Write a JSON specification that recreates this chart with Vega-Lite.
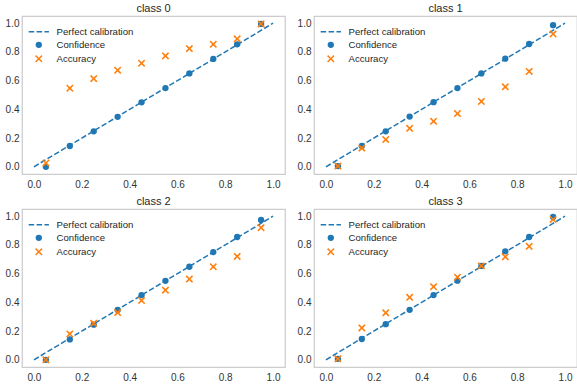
{
  "$schema": "https://vega.github.io/schema/vega-lite/v6.json",
  "padding": {"left": 4, "top": 2, "right": 0, "bottom": 0},
  "datasets": {
    "diag": [{"x": 0, "y": 0, "series": "Perfect calibration"}, {"x": 1, "y": 1, "series": "Perfect calibration"}],
    "pts": [
      {"cls": 0, "series": "Confidence", "x": 0.05, "y": 0.0},
      {"cls": 0, "series": "Confidence", "x": 0.15, "y": 0.145},
      {"cls": 0, "series": "Confidence", "x": 0.25, "y": 0.247},
      {"cls": 0, "series": "Confidence", "x": 0.35, "y": 0.348},
      {"cls": 0, "series": "Confidence", "x": 0.45, "y": 0.449},
      {"cls": 0, "series": "Confidence", "x": 0.55, "y": 0.548},
      {"cls": 0, "series": "Confidence", "x": 0.65, "y": 0.65},
      {"cls": 0, "series": "Confidence", "x": 0.75, "y": 0.751},
      {"cls": 0, "series": "Confidence", "x": 0.85, "y": 0.853},
      {"cls": 0, "series": "Confidence", "x": 0.95, "y": 0.995},
      {"cls": 0, "series": "Accuracy", "x": 0.05, "y": 0.026},
      {"cls": 0, "series": "Accuracy", "x": 0.15, "y": 0.547},
      {"cls": 0, "series": "Accuracy", "x": 0.25, "y": 0.614},
      {"cls": 0, "series": "Accuracy", "x": 0.35, "y": 0.672},
      {"cls": 0, "series": "Accuracy", "x": 0.45, "y": 0.721},
      {"cls": 0, "series": "Accuracy", "x": 0.55, "y": 0.772},
      {"cls": 0, "series": "Accuracy", "x": 0.65, "y": 0.823},
      {"cls": 0, "series": "Accuracy", "x": 0.75, "y": 0.853},
      {"cls": 0, "series": "Accuracy", "x": 0.85, "y": 0.891},
      {"cls": 0, "series": "Accuracy", "x": 0.95, "y": 0.995},
      {"cls": 1, "series": "Confidence", "x": 0.05, "y": 0.005},
      {"cls": 1, "series": "Confidence", "x": 0.15, "y": 0.145},
      {"cls": 1, "series": "Confidence", "x": 0.25, "y": 0.247},
      {"cls": 1, "series": "Confidence", "x": 0.35, "y": 0.35},
      {"cls": 1, "series": "Confidence", "x": 0.45, "y": 0.45},
      {"cls": 1, "series": "Confidence", "x": 0.55, "y": 0.548},
      {"cls": 1, "series": "Confidence", "x": 0.65, "y": 0.65},
      {"cls": 1, "series": "Confidence", "x": 0.75, "y": 0.753},
      {"cls": 1, "series": "Confidence", "x": 0.85, "y": 0.855},
      {"cls": 1, "series": "Confidence", "x": 0.95, "y": 0.986},
      {"cls": 1, "series": "Accuracy", "x": 0.05, "y": 0.005},
      {"cls": 1, "series": "Accuracy", "x": 0.15, "y": 0.13},
      {"cls": 1, "series": "Accuracy", "x": 0.25, "y": 0.19},
      {"cls": 1, "series": "Accuracy", "x": 0.35, "y": 0.268},
      {"cls": 1, "series": "Accuracy", "x": 0.45, "y": 0.317},
      {"cls": 1, "series": "Accuracy", "x": 0.55, "y": 0.371},
      {"cls": 1, "series": "Accuracy", "x": 0.65, "y": 0.455},
      {"cls": 1, "series": "Accuracy", "x": 0.75, "y": 0.557},
      {"cls": 1, "series": "Accuracy", "x": 0.85, "y": 0.664},
      {"cls": 1, "series": "Accuracy", "x": 0.95, "y": 0.925},
      {"cls": 2, "series": "Confidence", "x": 0.05, "y": 0.0},
      {"cls": 2, "series": "Confidence", "x": 0.15, "y": 0.142},
      {"cls": 2, "series": "Confidence", "x": 0.25, "y": 0.245},
      {"cls": 2, "series": "Confidence", "x": 0.35, "y": 0.347},
      {"cls": 2, "series": "Confidence", "x": 0.45, "y": 0.45},
      {"cls": 2, "series": "Confidence", "x": 0.55, "y": 0.55},
      {"cls": 2, "series": "Confidence", "x": 0.65, "y": 0.648},
      {"cls": 2, "series": "Confidence", "x": 0.75, "y": 0.75},
      {"cls": 2, "series": "Confidence", "x": 0.85, "y": 0.855},
      {"cls": 2, "series": "Confidence", "x": 0.95, "y": 0.974},
      {"cls": 2, "series": "Accuracy", "x": 0.05, "y": 0.0},
      {"cls": 2, "series": "Accuracy", "x": 0.15, "y": 0.18},
      {"cls": 2, "series": "Accuracy", "x": 0.25, "y": 0.254},
      {"cls": 2, "series": "Accuracy", "x": 0.35, "y": 0.329},
      {"cls": 2, "series": "Accuracy", "x": 0.45, "y": 0.413},
      {"cls": 2, "series": "Accuracy", "x": 0.55, "y": 0.485},
      {"cls": 2, "series": "Accuracy", "x": 0.65, "y": 0.562},
      {"cls": 2, "series": "Accuracy", "x": 0.75, "y": 0.648},
      {"cls": 2, "series": "Accuracy", "x": 0.85, "y": 0.72},
      {"cls": 2, "series": "Accuracy", "x": 0.95, "y": 0.92},
      {"cls": 3, "series": "Confidence", "x": 0.05, "y": 0.007},
      {"cls": 3, "series": "Confidence", "x": 0.15, "y": 0.145},
      {"cls": 3, "series": "Confidence", "x": 0.25, "y": 0.248},
      {"cls": 3, "series": "Confidence", "x": 0.35, "y": 0.348},
      {"cls": 3, "series": "Confidence", "x": 0.45, "y": 0.451},
      {"cls": 3, "series": "Confidence", "x": 0.55, "y": 0.551},
      {"cls": 3, "series": "Confidence", "x": 0.65, "y": 0.654},
      {"cls": 3, "series": "Confidence", "x": 0.75, "y": 0.755},
      {"cls": 3, "series": "Confidence", "x": 0.85, "y": 0.855},
      {"cls": 3, "series": "Confidence", "x": 0.95, "y": 0.995},
      {"cls": 3, "series": "Accuracy", "x": 0.05, "y": 0.007},
      {"cls": 3, "series": "Accuracy", "x": 0.15, "y": 0.222},
      {"cls": 3, "series": "Accuracy", "x": 0.25, "y": 0.327},
      {"cls": 3, "series": "Accuracy", "x": 0.35, "y": 0.435},
      {"cls": 3, "series": "Accuracy", "x": 0.45, "y": 0.509},
      {"cls": 3, "series": "Accuracy", "x": 0.55, "y": 0.575},
      {"cls": 3, "series": "Accuracy", "x": 0.65, "y": 0.654},
      {"cls": 3, "series": "Accuracy", "x": 0.75, "y": 0.717},
      {"cls": 3, "series": "Accuracy", "x": 0.85, "y": 0.79},
      {"cls": 3, "series": "Accuracy", "x": 0.95, "y": 0.977}
    ]
  },
  "spacing": 5,
  "resolve": {"legend": {"fill": "independent", "stroke": "independent", "shape": "independent", "strokeDash": "independent"}},
  "vconcat": [
    {
      "spacing": 10,
      "resolve": {"legend": {"fill": "independent", "stroke": "independent", "shape": "independent", "strokeDash": "independent"}},
      "hconcat": [
        {
          "title": "class 0", "width": 263, "height": 158,
          "encoding": {
            "x": {"field": "x", "type": "quantitative", "title": null, "scale": {"domain": [-0.05, 1.05], "nice": false, "zero": false}, "axis": {"values": [0, 0.2, 0.4, 0.6, 0.8, 1.0], "format": ".1f", "labelOverlap": false}},
            "y": {"field": "y", "type": "quantitative", "title": null, "scale": {"domain": [-0.05, 1.05], "nice": false, "zero": false}, "axis": {"values": [0, 0.2, 0.4, 0.6, 0.8, 1.0], "format": ".1f", "labelOverlap": false}}
          },
          "layer": [
            {"data": {"name": "diag"}, "mark": {"type": "line", "strokeWidth": 1.5},
             "encoding": {
               "stroke": {"field": "series", "type": "nominal", "scale": {"domain": ["Perfect calibration", "Confidence", "Accuracy"], "range": ["#1f77b4", "transparent", "#ff7f0e"]}},
               "strokeDash": {"field": "series", "type": "nominal", "scale": {"domain": ["Perfect calibration", "Confidence", "Accuracy"], "range": [[5.5, 2.4], [1, 0], [1, 0]]}}
             }},
            {"data": {"name": "pts"}, "transform": [{"filter": "datum.cls === 0"}], "mark": {"type": "point", "filled": true, "size": 40, "strokeWidth": 1.6, "opacity": 1},
             "encoding": {
               "order": {"field": "series", "sort": "descending"},
               "fill": {"field": "series", "type": "nominal", "scale": {"domain": ["Perfect calibration", "Confidence", "Accuracy"], "range": ["transparent", "#1f77b4", "transparent"]}},
               "stroke": {"field": "series", "type": "nominal"},
               "shape": {"field": "series", "type": "nominal", "scale": {"domain": ["Perfect calibration", "Confidence", "Accuracy"], "range": ["M-3.2,0H3.2", "circle", "M-1,-1L1,1M-1,1L1,-1"]}},
               "strokeDash": {"field": "series", "type": "nominal"}
             }}
          ]
        },
        {
          "title": "class 1", "width": 263, "height": 158,
          "encoding": {
            "x": {"field": "x", "type": "quantitative", "title": null, "scale": {"domain": [-0.05, 1.05], "nice": false, "zero": false}, "axis": {"values": [0, 0.2, 0.4, 0.6, 0.8, 1.0], "format": ".1f", "labelOverlap": false}},
            "y": {"field": "y", "type": "quantitative", "title": null, "scale": {"domain": [-0.05, 1.05], "nice": false, "zero": false}, "axis": {"values": [0, 0.2, 0.4, 0.6, 0.8, 1.0], "format": ".1f", "labelOverlap": false}}
          },
          "layer": [
            {"data": {"name": "diag"}, "mark": {"type": "line", "strokeWidth": 1.5},
             "encoding": {
               "stroke": {"field": "series", "type": "nominal", "scale": {"domain": ["Perfect calibration", "Confidence", "Accuracy"], "range": ["#1f77b4", "transparent", "#ff7f0e"]}},
               "strokeDash": {"field": "series", "type": "nominal", "scale": {"domain": ["Perfect calibration", "Confidence", "Accuracy"], "range": [[5.5, 2.4], [1, 0], [1, 0]]}}
             }},
            {"data": {"name": "pts"}, "transform": [{"filter": "datum.cls === 1"}], "mark": {"type": "point", "filled": true, "size": 40, "strokeWidth": 1.6, "opacity": 1},
             "encoding": {
               "order": {"field": "series", "sort": "descending"},
               "fill": {"field": "series", "type": "nominal", "scale": {"domain": ["Perfect calibration", "Confidence", "Accuracy"], "range": ["transparent", "#1f77b4", "transparent"]}},
               "stroke": {"field": "series", "type": "nominal"},
               "shape": {"field": "series", "type": "nominal", "scale": {"domain": ["Perfect calibration", "Confidence", "Accuracy"], "range": ["M-3.2,0H3.2", "circle", "M-1,-1L1,1M-1,1L1,-1"]}},
               "strokeDash": {"field": "series", "type": "nominal"}
             }}
          ]
        }
      ]
    },
    {
      "spacing": 10,
      "resolve": {"legend": {"fill": "independent", "stroke": "independent", "shape": "independent", "strokeDash": "independent"}},
      "hconcat": [
        {
          "title": "class 2", "width": 263, "height": 158,
          "encoding": {
            "x": {"field": "x", "type": "quantitative", "title": null, "scale": {"domain": [-0.05, 1.05], "nice": false, "zero": false}, "axis": {"values": [0, 0.2, 0.4, 0.6, 0.8, 1.0], "format": ".1f", "labelOverlap": false}},
            "y": {"field": "y", "type": "quantitative", "title": null, "scale": {"domain": [-0.05, 1.05], "nice": false, "zero": false}, "axis": {"values": [0, 0.2, 0.4, 0.6, 0.8, 1.0], "format": ".1f", "labelOverlap": false}}
          },
          "layer": [
            {"data": {"name": "diag"}, "mark": {"type": "line", "strokeWidth": 1.5},
             "encoding": {
               "stroke": {"field": "series", "type": "nominal", "scale": {"domain": ["Perfect calibration", "Confidence", "Accuracy"], "range": ["#1f77b4", "transparent", "#ff7f0e"]}},
               "strokeDash": {"field": "series", "type": "nominal", "scale": {"domain": ["Perfect calibration", "Confidence", "Accuracy"], "range": [[5.5, 2.4], [1, 0], [1, 0]]}}
             }},
            {"data": {"name": "pts"}, "transform": [{"filter": "datum.cls === 2"}], "mark": {"type": "point", "filled": true, "size": 40, "strokeWidth": 1.6, "opacity": 1},
             "encoding": {
               "order": {"field": "series", "sort": "descending"},
               "fill": {"field": "series", "type": "nominal", "scale": {"domain": ["Perfect calibration", "Confidence", "Accuracy"], "range": ["transparent", "#1f77b4", "transparent"]}},
               "stroke": {"field": "series", "type": "nominal"},
               "shape": {"field": "series", "type": "nominal", "scale": {"domain": ["Perfect calibration", "Confidence", "Accuracy"], "range": ["M-3.2,0H3.2", "circle", "M-1,-1L1,1M-1,1L1,-1"]}},
               "strokeDash": {"field": "series", "type": "nominal"}
             }}
          ]
        },
        {
          "title": "class 3", "width": 263, "height": 158,
          "encoding": {
            "x": {"field": "x", "type": "quantitative", "title": null, "scale": {"domain": [-0.05, 1.05], "nice": false, "zero": false}, "axis": {"values": [0, 0.2, 0.4, 0.6, 0.8, 1.0], "format": ".1f", "labelOverlap": false}},
            "y": {"field": "y", "type": "quantitative", "title": null, "scale": {"domain": [-0.05, 1.05], "nice": false, "zero": false}, "axis": {"values": [0, 0.2, 0.4, 0.6, 0.8, 1.0], "format": ".1f", "labelOverlap": false}}
          },
          "layer": [
            {"data": {"name": "diag"}, "mark": {"type": "line", "strokeWidth": 1.5},
             "encoding": {
               "stroke": {"field": "series", "type": "nominal", "scale": {"domain": ["Perfect calibration", "Confidence", "Accuracy"], "range": ["#1f77b4", "transparent", "#ff7f0e"]}},
               "strokeDash": {"field": "series", "type": "nominal", "scale": {"domain": ["Perfect calibration", "Confidence", "Accuracy"], "range": [[5.5, 2.4], [1, 0], [1, 0]]}}
             }},
            {"data": {"name": "pts"}, "transform": [{"filter": "datum.cls === 3"}], "mark": {"type": "point", "filled": true, "size": 40, "strokeWidth": 1.6, "opacity": 1},
             "encoding": {
               "order": {"field": "series", "sort": "descending"},
               "fill": {"field": "series", "type": "nominal", "scale": {"domain": ["Perfect calibration", "Confidence", "Accuracy"], "range": ["transparent", "#1f77b4", "transparent"]}},
               "stroke": {"field": "series", "type": "nominal"},
               "shape": {"field": "series", "type": "nominal", "scale": {"domain": ["Perfect calibration", "Confidence", "Accuracy"], "range": ["M-3.2,0H3.2", "circle", "M-1,-1L1,1M-1,1L1,-1"]}},
               "strokeDash": {"field": "series", "type": "nominal"}
             }}
          ]
        }
      ]
    }
  ],
  "config": {
    "font": "Liberation Sans",
    "background": "white",
    "view": {"stroke": "#cccccc", "strokeWidth": 1.25},
    "axis": {"grid": false, "domain": false, "ticks": false, "labelOverlap": false, "labelFontSize": 10, "labelColor": "#333333", "labelFont": "Liberation Sans"},
    "axisX": {"labelPadding": 5},
    "axisY": {"labelPadding": 3},
    "title": {"fontSize": 11, "fontWeight": "normal", "color": "#262626", "offset": 2, "font": "Liberation Sans"},
    "legend": {"title": null, "orient": "none", "legendX": 12, "legendY": 11, "padding": 0, "labelFontSize": 9.6, "labelColor": "#262626", "labelFont": "Liberation Sans", "symbolSize": 40, "labelOffset": 13, "rowPadding": 1, "symbolStrokeWidth": 1.5, "symbolOpacity": 1}
  }
}
